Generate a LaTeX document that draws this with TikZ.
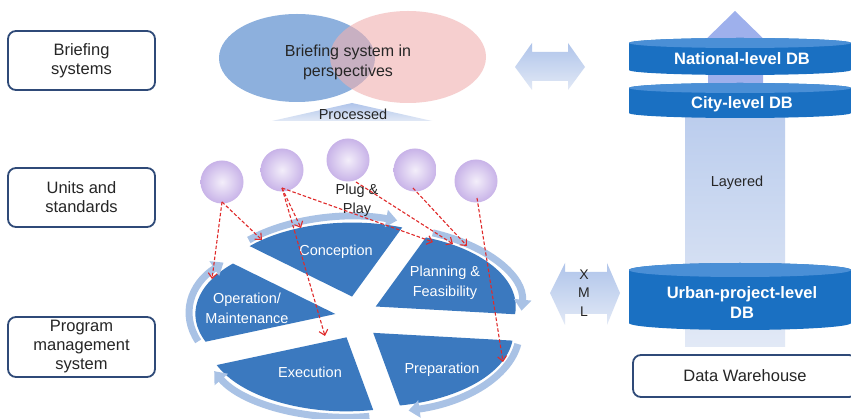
\documentclass[tikz,border=0pt]{standalone}
\usepackage{fontspec}
\setmainfont{Liberation Sans}
\usetikzlibrary{arrows.meta,calc,shapes.geometric}
\definecolor{boxline}{HTML}{2F4A78}
\definecolor{wedgeblue}{HTML}{3B79BF}
\definecolor{bandblue}{HTML}{A9C2E5}
\definecolor{dbblue}{HTML}{1A70C2}
\definecolor{dbtop}{HTML}{4A8FD6}
\definecolor{vennblue}{HTML}{8DB0DD}
\definecolor{vennpink}{HTML}{F0B0B0}
\definecolor{sphin}{HTML}{F3EEFA}
\definecolor{sphout}{HTML}{C8B3E8}
\definecolor{dashred}{HTML}{E02A2A}
\definecolor{fainttop}{HTML}{AFC4EA}
\definecolor{faintbot}{HTML}{E2E9F6}
\tikzset{
  labelbox/.style={draw=boxline, line width=1.8pt, rounded corners=8pt, fill=white,
    minimum width=147pt, minimum height=59pt, align=center, text=black!85,
    font=\fontsize{16.5}{19}\selectfont, inner sep=1pt},
  wlabel/.style={text=white, align=center, font=\fontsize{14.5}{20}\selectfont},
  dblabel/.style={text=white, align=center, font=\fontsize{16.5}{20}\selectfont\bfseries},
  plain/.style={text=black!85, align=center, font=\fontsize{14.5}{19}\selectfont},
  sphere/.style={circle, minimum size=43pt, inner sep=0pt, shading=radial,
    inner color=sphin, outer color=sphout},
  redarrow/.style={draw=dashred, line width=1.1pt, dash pattern=on 3.5pt off 2pt,
    -{Straight Barb[length=5pt,width=9pt]}},
  faint/.style={top color=fainttop, bottom color=faintbot, draw=none},
  rimband/.style={draw=bandblue, line width=7pt, -{Triangle[width=17pt,length=11pt]}},
}
\newcommand\dbcylinder[5]{% cx, ytop, ybot, rx, ry
  \fill[dbblue] ({#1-#4},#2) -- ({#1-#4},#3) arc[start angle=180,end angle=0,x radius=#4,y radius=#5]
     -- ({#1+#4},#2) arc[start angle=0,end angle=-180,x radius=#4,y radius=#5] -- cycle;
  \fill[dbtop] (#1,#2) ellipse[x radius=#4, y radius=#5];
}
\begin{document}
\begin{tikzpicture}[x=1pt,y=-1pt]
\useasboundingbox (0,0) rectangle (851,419);
\clip (0,0) rectangle (851,419);
\fill[white] (0,0) rectangle (851,419);

% left boxes
\node[labelbox] (brief) at (81.5,60.5) {Briefing\\systems};
\node[labelbox] (units) at (81.5,197.5) {Units and\\standards};
\node[labelbox, minimum height=60pt] (pms) at (81.5,347) {Program\\management\\system};

% Venn
\fill[vennblue] (297,58) ellipse[x radius=78, y radius=44];
\fill[vennpink, opacity=0.6] (408,57) ellipse[x radius=78, y radius=46];
\node[plain, font=\fontsize{16}{20}\selectfont] (venn) at (348,62) {Briefing system in\\perspectives};

% processed
\shade[faint] (272,121) -- (352,103) -- (432,121) -- cycle;
\node[plain] (proc) at (353,114) {Processed};

% top double arrow
\shade[faint] (515,67) -- (532,43) -- (532,52) -- (568,52) -- (568,43) -- (585,67)
  -- (568,90) -- (568,81) -- (532,81) -- (532,90) -- cycle;

% XML double arrow
\shade[faint] (550,293) -- (565,263) -- (565,272) -- (607,272) -- (607,263) -- (620,293)
  -- (607,325) -- (607,314) -- (565,314) -- (565,325) -- cycle;
\node[plain, font=\fontsize{14}{18.5}\selectfont] (xml) at (584,293) {X\\M\\L};

% vertical layered arrow
\fill[fainttop!90!blue] (708,120) -- (708,50) -- (695,50) -- (735,11) -- (775,50)
  -- (763,50) -- (763,120) -- cycle;
\shade[top color=fainttop!85, bottom color=faintbot] (685,347) -- (685,116) -- (785,116) -- (785,347) -- cycle;
\node[plain] (layer) at (737,183) {Layered};

% DB cylinders
\dbcylinder{740}{43}{70}{111}{5}
\node[dblabel] (natdb) at (742,59) {National-level DB};
\dbcylinder{740}{88}{113}{111}{5}
\node[dblabel] (citydb) at (742,104) {City-level DB};
\dbcylinder{740}{270}{323}{111}{7}
\node[dblabel] (urbdb) at (742,303) {Urban-project-level\\DB};

\node[labelbox, minimum width=224pt, minimum height=42pt] (dw) at (745,376) {Data Warehouse};

% cycle wedges (exploded pie)
\def\cx{357}\def\cy{318}
\foreach \a/\b in {223/291, 291/366, 6/79, 79/158, 158/223} {
  \pgfmathsetmacro\m{(\a+\b)/2}
  \fill[wedgeblue] ($(\cx,\cy)+(\m:22)$) -- ($(\cx,\cy)+(\m:22)+({140*cos(\a)},{74*sin(\a)})$)
     arc[start angle=\a, end angle=\b, x radius=140, y radius=74] -- cycle;
}
\foreach \a/\b in {223/291, 291/366, 6/79, 79/158, 158/223} {
  \pgfmathsetmacro\m{(\a+\b)/2}
  \pgfmathsetmacro\s{\a+2}
  \pgfmathsetmacro\e{\b-3}
  \draw[rimband] ($(\cx,\cy)+(\m:22)+({146*cos(\s)},{80*sin(\s)})$)
     arc[start angle=\s, end angle=\e, x radius=146, y radius=80];
}
\node[wlabel] (conc) at (336,252) {Conception};
\node[wlabel] (plan) at (445,283) {Planning \&\\Feasibility};
\node[wlabel] (prep) at (442,370) {Preparation};
\node[wlabel] (exec) at (310,372) {Execution};
\node[wlabel] (oper) at (247,308) {Operation/\\Maintenance};

% spheres
\node[sphere] (s1) at (222,182) {};
\node[sphere] (s2) at (282,170) {};
\node[sphere] (s3) at (348,160) {};
\node[sphere] (s4) at (415,170) {};
\node[sphere] (s5) at (476,181) {};

\node[plain] (plug) at (357,200) {Plug \&\\Play};

% targets
\coordinate (t1) at (212,279);
\coordinate (t2) at (262,240);
\coordinate (t3) at (301,228);
\coordinate (t4) at (325,336);
\coordinate (t5) at (433,242);
\coordinate (t6) at (453,244);
\coordinate (t7) at (467,246);
\coordinate (t8) at (503,362);
\coordinate (o1) at (222,202);
\coordinate (o2) at (282,188);
\coordinate (o3) at (356,182);
\coordinate (o4) at (413,188);
\coordinate (o5) at (477,198);

\draw[redarrow] (o1) -- (t1);
\draw[redarrow] (o1) -- (t2);
\draw[redarrow] (o2) -- (t3);
\draw[redarrow] (o2) -- (t4);
\draw[redarrow] (o2) -- (t5);
\draw[redarrow] (o3) -- (t6);
\draw[redarrow] (o4) -- (t7);
\draw[redarrow] (o5) -- (t8);
\end{tikzpicture}
\end{document}
